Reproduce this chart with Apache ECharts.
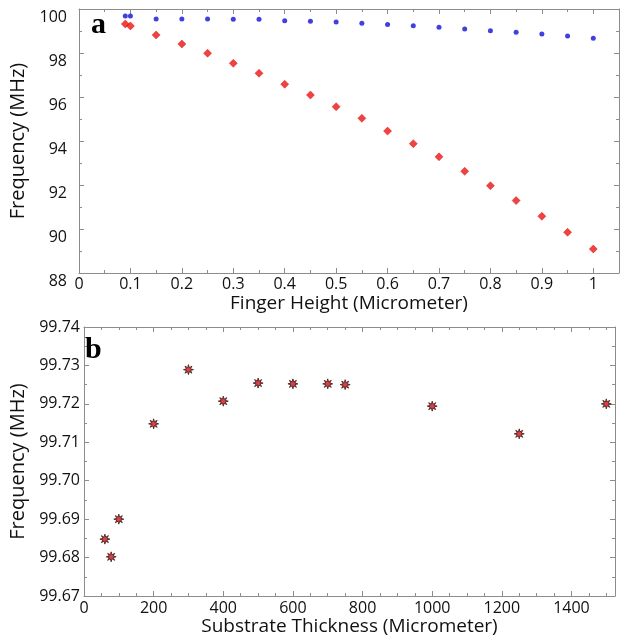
<!DOCTYPE html>
<html>
<head>
<meta charset="utf-8">
<script src="https://cdn.jsdelivr.net/npm/echarts@6/dist/echarts.min.js"></script>
<style>
  html, body { margin: 0; padding: 0; background: #fff; }
  #chart { width: 620px; height: 638px; }
</style>
</head>
<body>
<div id="chart"></div>
<script>
// Panel (a): resonant frequency vs. finger height
const fingerHeight = [0.09, 0.1, 0.15, 0.2, 0.25, 0.3, 0.35, 0.4, 0.45, 0.5, 0.55,
                      0.6, 0.65, 0.7, 0.75, 0.8, 0.85, 0.9, 0.95, 1.0];
const freqRed = [99.32, 99.23, 98.82, 98.41, 97.99, 97.53, 97.08, 96.58, 96.09, 95.56, 95.03,
                 94.45, 93.88, 93.28, 92.62, 91.97, 91.29, 90.58, 89.85, 89.09];
const freqBlue = [99.68, 99.68, 99.55, 99.55, 99.55, 99.53, 99.53, 99.47, 99.44, 99.41, 99.35,
                  99.30, 99.24, 99.17, 99.09, 99.01, 98.94, 98.86, 98.77, 98.67];

// Panel (b): resonant frequency vs. substrate thickness
const substrateThickness = [60, 78, 100, 200, 300, 400, 500, 600, 700, 750, 1000, 1250, 1500];
const freqSubstrate = [99.6848, 99.6802, 99.6900, 99.7148, 99.7289, 99.7207, 99.7254,
                       99.7252, 99.7252, 99.7250, 99.7194, 99.7122, 99.7200];

const FONT = 'Open Sans';
const AXIS_COLOR = '#8c8c8c';
const TEXT_COLOR = '#111';

function zip(xs, ys) { return xs.map((x, i) => [x, ys[i]]); }

// Shared axis look: thin grey lines, inward ticks, minor ticks
function baseAxis(extra) {
  return Object.assign({
    axisLine: { show: true, onZero: false, lineStyle: { color: AXIS_COLOR, width: 1 } },
    axisTick: { show: true, inside: true, length: 5, lineStyle: { color: AXIS_COLOR } },
    minorTick: { show: true, splitNumber: 2, length: 3, lineStyle: { color: AXIS_COLOR } },
    splitLine: { show: false },
    axisLabel: { color: TEXT_COLOR, fontFamily: FONT, fontSize: 15 }
  }, extra);
}

// Mirror axis to close the frame (no labels)
function mirrorAxis(extra) {
  const a = baseAxis(extra);
  a.axisLabel = { show: false };
  return a;
}

// Eight-armed asterisk marker
const starPath = 'path://M50,0 L58,30 L85,15 L70,42 L100,50 L70,58 L85,85 L58,70 L50,100 L42,70 L15,85 L30,58 L0,50 L30,42 L15,15 L42,30 Z';

const chart = echarts.init(document.getElementById('chart'), null, { renderer: 'canvas' });

chart.setOption({
  backgroundColor: '#fff',
  animation: false,
  title: [
    { text: 'a', left: 86, top: 5, textStyle: { fontFamily: 'Liberation Serif', fontWeight: 'bold', fontSize: 30, color: '#000' } },
    { text: 'b', left: 80, top: 330, textStyle: { fontFamily: 'Liberation Serif', fontWeight: 'bold', fontSize: 30, color: '#000' } }
  ],
  grid: [
    { left: 79, top: 9, width: 540, height: 264 },
    { left: 73, top: 327, width: 542, height: 269 }
  ],
  xAxis: [
    baseAxis({
      gridIndex: 0, type: 'value', min: 0, max: 1.05, interval: 0.1,
      name: 'Finger Height (Micrometer)', nameLocation: 'middle', nameGap: 21,
      nameTextStyle: { fontFamily: FONT, fontSize: 19, color: TEXT_COLOR },
      axisLabel: {
        color: TEXT_COLOR, fontFamily: FONT, fontSize: 16, margin: 3,
        formatter: v => (v > 1.0001 ? '' : String(Math.round(v * 10) / 10)),
        showMaxLabel: false
      }
    }),
    mirrorAxis({ gridIndex: 0, type: 'value', position: 'top', min: 0, max: 1.05, interval: 0.1 }),
    baseAxis({
      gridIndex: 1, type: 'value', min: 0, max: 1525, interval: 200,
      name: 'Substrate Thickness (Micrometer)', nameLocation: 'middle', nameGap: 20,
      nameTextStyle: { fontFamily: FONT, fontSize: 19, color: TEXT_COLOR },
      minorTick: { show: true, splitNumber: 4, length: 3, lineStyle: { color: AXIS_COLOR } },
      axisLabel: {
        color: TEXT_COLOR, fontFamily: FONT, fontSize: 16, margin: 4, showMaxLabel: false,
        formatter: v => String(v)
      }
    }),
    mirrorAxis({
      gridIndex: 1, type: 'value', position: 'top', min: 0, max: 1525, interval: 200,
      minorTick: { show: true, splitNumber: 4, length: 3, lineStyle: { color: AXIS_COLOR } }
    })
  ],
  yAxis: [
    baseAxis({
      gridIndex: 0, type: 'value', min: 88, max: 100, interval: 2,
      name: 'Frequency (MHz)', nameLocation: 'middle', nameGap: 50,
      nameTextStyle: { fontFamily: FONT, fontSize: 20, color: TEXT_COLOR },
      axisLabel: { color: TEXT_COLOR, fontFamily: FONT, fontSize: 16, margin: 12, verticalAlign: 'top' }
    }),
    mirrorAxis({ gridIndex: 0, type: 'value', position: 'right', min: 88, max: 100, interval: 2 }),
    baseAxis({
      gridIndex: 1, type: 'value', min: 99.67, max: 99.74, interval: 0.01,
      name: 'Frequency (MHz)', nameLocation: 'middle', nameGap: 56,
      nameTextStyle: { fontFamily: FONT, fontSize: 20, color: TEXT_COLOR },
      axisLabel: { color: TEXT_COLOR, fontFamily: FONT, fontSize: 16, margin: 4, formatter: v => v.toFixed(2) }
    }),
    mirrorAxis({ gridIndex: 1, type: 'value', position: 'right', min: 99.67, max: 99.74, interval: 0.01 })
  ],
  series: [
    {
      type: 'scatter', xAxisIndex: 0, yAxisIndex: 0,
      data: zip(fingerHeight, freqBlue),
      symbol: 'circle', symbolSize: 5,
      itemStyle: { color: '#1010d8' }
    },
    {
      type: 'scatter', xAxisIndex: 0, yAxisIndex: 0,
      data: zip(fingerHeight, freqRed),
      symbol: 'diamond', symbolSize: 8,
      itemStyle: { color: '#ee1111', borderColor: '#c00', borderWidth: 0.5 }
    },
    {
      type: 'scatter', xAxisIndex: 2, yAxisIndex: 2,
      data: zip(substrateThickness, freqSubstrate),
      symbol: starPath, symbolSize: 10,
      itemStyle: { color: '#d81010', borderColor: '#3a1a1a', borderWidth: 1 }
    }
  ]
});
</script>
</body>
</html>
